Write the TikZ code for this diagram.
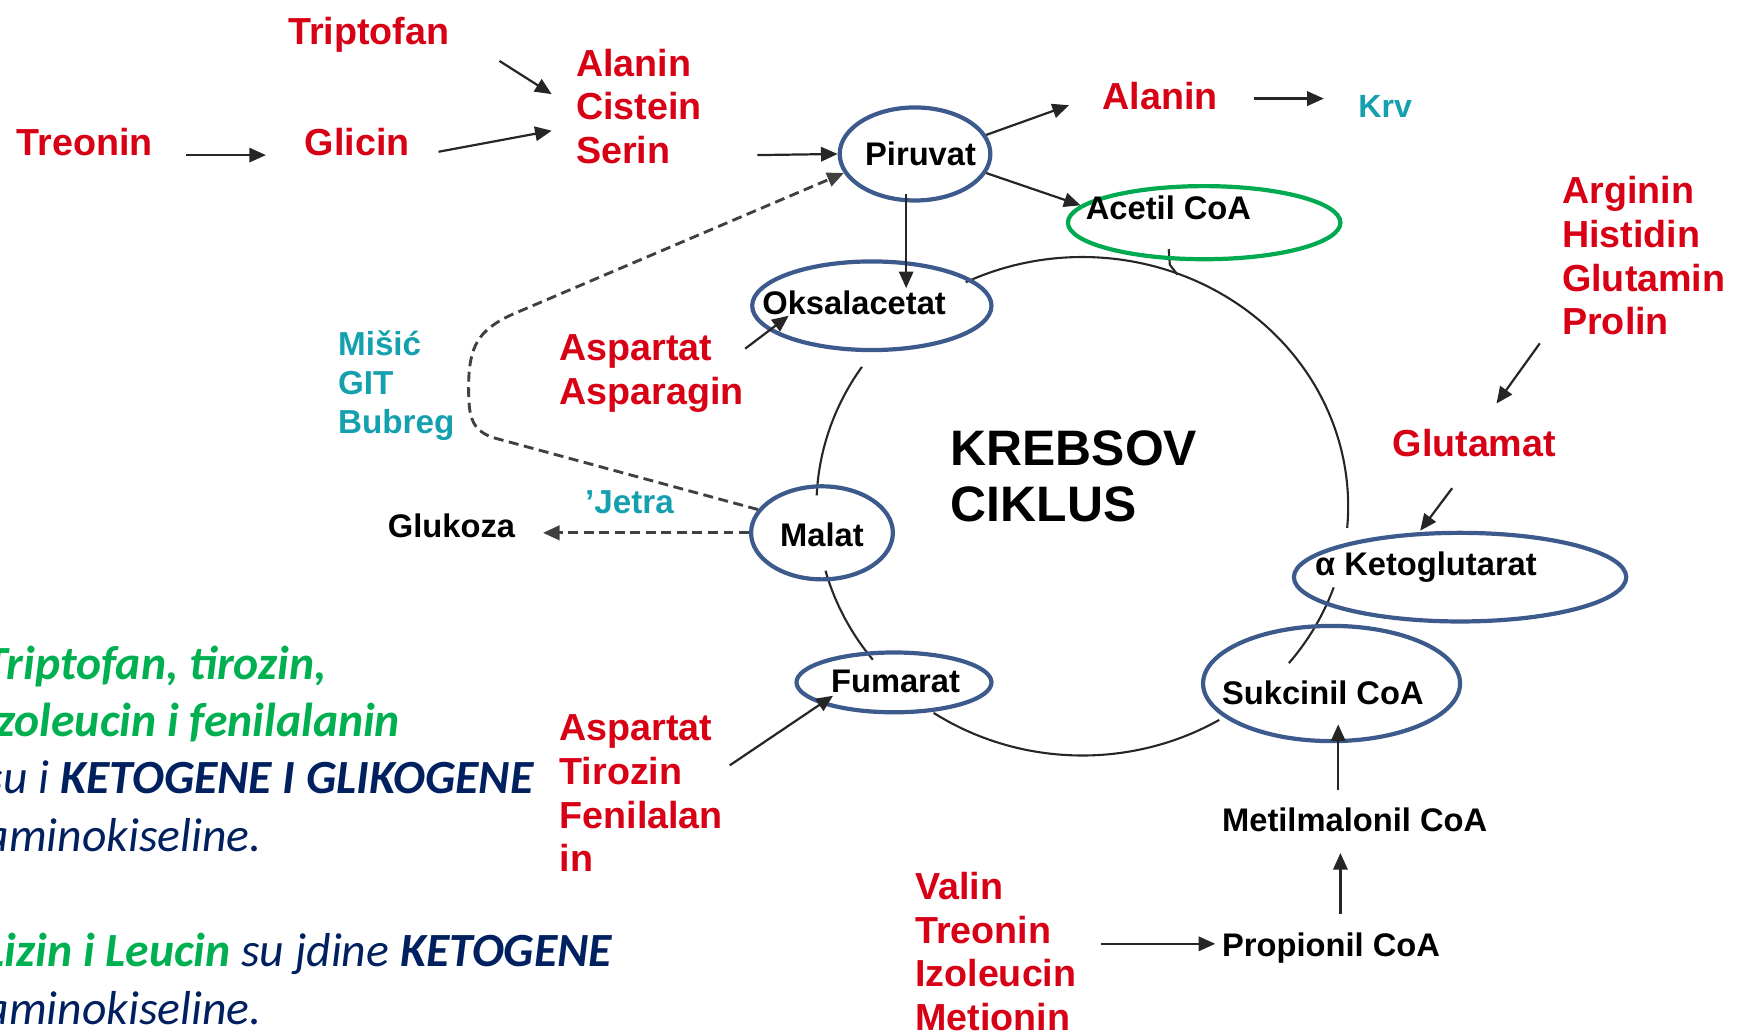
\documentclass[tikz,border=0pt]{standalone}
\usepackage{fontspec}
\setmainfont{Liberation Sans}
\newfontfamily\calfont{Carlito}
\usetikzlibrary{shapes.geometric,arrows.meta,calc}
\definecolor{lbred}{RGB}{215,0,20}
\definecolor{lbteal}{RGB}{20,160,175}
\definecolor{ellblue}{RGB}{60,90,140}
\definecolor{ellgreen}{RGB}{0,170,80}
\definecolor{txtgreen}{RGB}{0,176,80}
\definecolor{txtblue}{RGB}{0,32,96}
\begin{document}
\begin{tikzpicture}[x=1pt,y=-1pt,
  redlbl/.style={inner sep=0, anchor=west, align=left, text=lbred, font=\fontsize{34}{39.5}\selectfont\bfseries},
  teallbl/.style={inner sep=0, anchor=west, align=left, text=lbteal, font=\fontsize{30}{35.5}\selectfont\bfseries},
  blk/.style={inner sep=0, anchor=west, text=black, font=\fontsize{29.5}{34}\selectfont\bfseries},
  ell/.style={draw=ellblue, line width=3.8pt, ellipse, inner sep=0, fill=none},
  arr/.style={-{Triangle[length=15pt,width=13pt]}, line width=2pt, draw=black!85},
  darr/.style={-{Triangle[length=15pt,width=13pt]}, line width=2.6pt, draw=black!75, dash pattern=on 9pt off 5pt},
  cyc/.style={line width=1.9pt, draw=black!85},
  lefttxt/.style={inner sep=0, anchor=base west, font=\calfont\fontsize{43}{52}\selectfont}
]
\useasboundingbox (0,0) rectangle (1568,933);

% ---- Krebs cycle ring (drawn in pieces)
\draw[cyc] plot[domain=-116:5,samples=90] ({977+240*cos(\x)},{457+225*sin(\x)});
\draw[cyc] plot[domain=19:39,samples=20] ({977+240*cos(\x)},{457+225*sin(\x)});
\draw[cyc] plot[domain=59:124,samples=60] ({977+240*cos(\x)},{457+225*sin(\x)});
\draw[cyc] plot[domain=142:165,samples=20] ({977+240*cos(\x)},{457+225*sin(\x)});
\draw[cyc] plot[domain=182.5:214,samples=30] ({977+240*cos(\x)},{457+225*sin(\x)});
\draw[cyc] (1055,225) -- (1056,239) -- (1063,248);

% ---- ellipses
\node[ell, minimum width=136pt, minimum height=84pt] (Epir) at (826,139) {};
\node[ell, minimum width=216pt, minimum height=80pt] (Eoks) at (787,276) {};
\node[ell, draw=ellgreen, minimum width=246pt, minimum height=66pt] (Eace) at (1087,201) {};
\node[ell, minimum width=128pt, minimum height=84pt] (Emal) at (742,481) {};
\node[ell, minimum width=176pt, minimum height=54pt] (Efum) at (807,616) {};
\node[ell, minimum width=300pt, minimum height=80pt] (Eket) at (1318,521) {};
\node[ell, minimum width=232pt, minimum height=104pt] (Esuk) at (1202,617) {};

% ---- black labels
\node[blk, anchor=center] (piruvat) at (831,139) {Piruvat};
\node[blk] (oks) at (688,273) {Oksalacetat};
\node[blk] (acetil) at (980,188) {Acetil CoA};
\node[blk, anchor=center] (malat) at (742,483) {Malat};
\node[blk] (glukoza) at (350,475) {Glukoza};
\node[blk] (fumarat) at (750,615) {Fumarat};
\node[blk] (alfaketo) at (1187,512) {α Ketoglutarat};
\node[blk] (sukcinil) at (1103,625) {Sukcinil CoA};
\node[blk] (metil) at (1103,740) {Metilmalonil CoA};
\node[blk] (propionil) at (1103,856) {Propionil CoA};
\node[inner sep=0, anchor=west, align=left, font=\fontsize{45}{51}\selectfont\bfseries] (krebs) at (858,430) {KREBSOV\\CIKLUS};

% ---- red labels
\node[redlbl] (triptofan) at (260,31) {Triptofan};
\node[redlbl] (treonin) at (15,128) {Treonin};
\node[redlbl] (glicin) at (275,128) {Glicin};
\node[redlbl] (acs) at (520,96) {Alanin\\Cistein\\Serin};
\node[redlbl] (alaninR) at (995,87) {Alanin};
\node[redlbl] (ahgp) at (1410,231) {Arginin\\Histidin\\Glutamin\\Prolin};
\node[redlbl] (glutamat) at (1257,400) {Glutamat};
\node[redlbl] (aa) at (505,337) {Aspartat\\Asparagin};
\node[redlbl] (atf) at (505,716) {Aspartat\\Tirozin\\Fenilalan\\in};
\node[redlbl] (vtim) at (826,859) {Valin\\Treonin\\Izoleucin\\Metionin};

% ---- teal labels
\node[teallbl] (msb) at (305,348) {Mišić\\GIT\\Bubreg};
\node[teallbl] (jetra) at (528,453) {'Jetra};
\node[teallbl, font=\fontsize{29}{34}\selectfont\bfseries] (krv) at (1226,96) {Krv};

% ---- connectors
\draw[arr] ($(treonin.east)+(30,12)$) -- ($(glicin.west)+(-35,12)$);
\draw[arr] ($(glicin.east)+(26,9)$) -- ($(acs.west)+(-22,22)$);
\draw[arr] ($(triptofan.east)+(45,24)$) -- ($(acs.west)+(-22,-11)$);
\draw[arr] ($(acs.east)+(50,44)$) -- (Epir.west);
\draw[darr] (Emal.160) -- (445,395) .. controls (425,388) and (423,375) .. (423,350)
   .. controls (423,312) and (432,298) .. (462,284) -- (Epir.195);
\draw[darr] (Emal.west) -- ($(glukoza.east)+(25,6)$);
\draw[arr] (Epir.15) -- ($(alaninR.west)+(-30,8)$);
\draw[arr] (Epir.-15) -- (Eace.172);
\draw[arr] ($(Epir.south)+(-8,-8)$) -- ($(Eoks.north)+(31,26)$);
\draw[arr] ($(alaninR.east)+(33,2)$) -- ($(krv.west)+(-31,-7)$);
\draw[arr] ($(aa.north east)+(1,13)$) -- ($(Eoks.center)+(-75,9)$);
\draw[arr] ($(ahgp.south west)+(-20,7)$) -- ($(glutamat.north)+(20,-23)$);
\draw[arr] ($(glutamat.south)+(-20,28)$) -- ($(Eket.north)+(-36,0)$);
\draw[arr] ($(atf.north east)+(6,46)$) -- ($(Efum.center)+(-55,12)$);
\draw[arr] ($(metil.north west)+(105,-16)$) -- ($(Esuk.south)+(6,-17)$);
\draw[arr] ($(propionil.north west)+(107,-17)$) -- ($(metil.south west)+(107,19)$);
\draw[arr] ($(vtim.east)+(22,-7)$) -- ($(propionil.west)+(-6,-4)$);

% ---- left explanatory text
\node[lefttxt, text=txtgreen] (t1) at (-14,613.5) {\bfseries\itshape Triptofan, tirozin,};
\node[lefttxt, text=txtgreen] (t2) at (-14,664.5) {\bfseries\itshape izoleucin i fenilalanin};
\node[lefttxt, text=txtblue] (t3) at (-14,716.5) {\itshape su i \bfseries KETOGENE I GLIKOGENE};
\node[lefttxt, text=txtblue] (t4) at (-14,768.5) {\itshape aminokiseline.};
\node[lefttxt, text=txtblue] (t5) at (-14,872.5) {\textcolor{txtgreen}{\bfseries\itshape Lizin i Leucin} \itshape su jdine \bfseries KETOGENE};
\node[lefttxt, text=txtblue] (t6) at (-14,924.5) {\itshape aminokiseline.};
\end{tikzpicture}
\end{document}
